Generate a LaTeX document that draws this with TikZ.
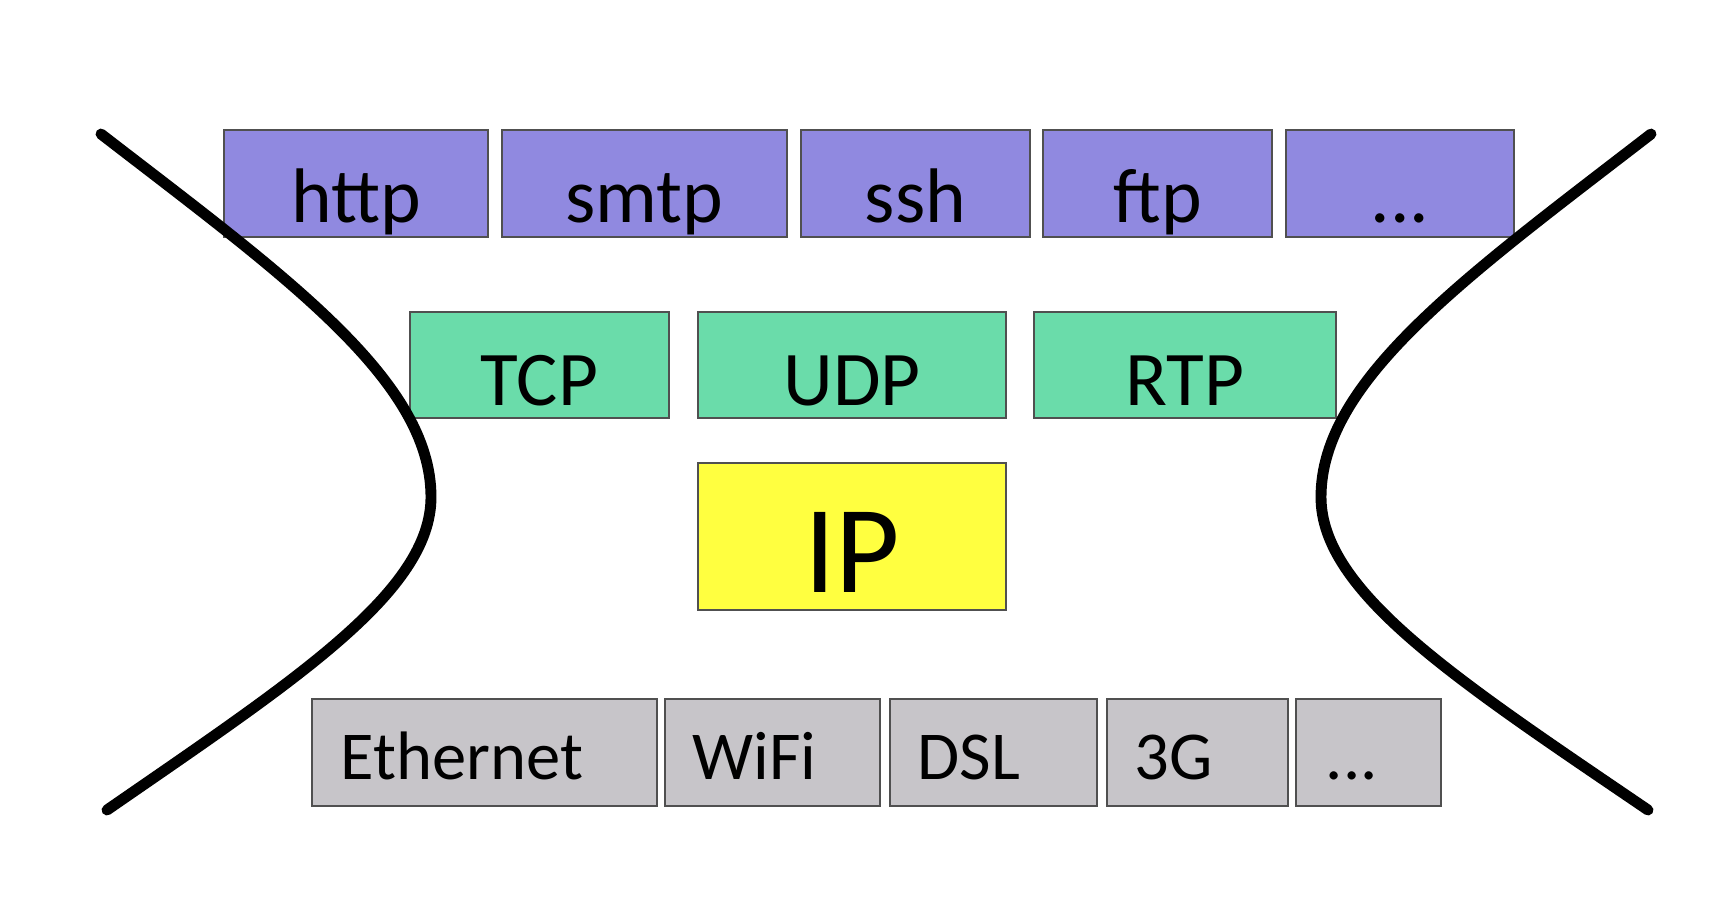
\documentclass[tikz,border=0pt]{standalone}
\usepackage{fontspec}
\setmainfont{Carlito}
\usetikzlibrary{calc}
\definecolor{appc}{RGB}{144,137,224}
\definecolor{trc}{RGB}{106,220,170}
\definecolor{ipc}{RGB}{255,255,64}
\definecolor{lnkc}{RGB}{199,197,201}
\definecolor{boxline}{RGB}{80,80,80}
\newcommand\mkbox[6]{%
  \pgfmathsetmacro\bw{(#3-#2)*0.01}%
  \pgfmathsetmacro\bh{(#5-#4)*0.01}%
  \node[#6, minimum width=\bw cm, minimum height=\bh cm] (#1) at ({(#2+#3)/2},{(#4+#5)/2}) {};}
\begin{document}
\begin{tikzpicture}[x=0.01cm,y=-0.01cm,
  layerbox/.style={draw=boxline, line width=0.6pt, inner sep=0pt, outer sep=0pt, rectangle},
  app/.style={layerbox, fill=appc},
  tr/.style={layerbox, fill=trc},
  ipb/.style={layerbox, fill=ipc},
  lnk/.style={layerbox, fill=lnkc},
  clbl/.style={anchor=base, inner sep=0pt, text=black},
  llbl/.style={anchor=base west, inner sep=0pt, text=black, font=\fontsize{19.5}{23}\selectfont},
  bigf/.style={font=\fontsize{22}{26}\selectfont},
  hour/.style={line width=3.1pt, line cap=round, black}]
\useasboundingbox[fill=white] (0,0) rectangle (1718,902);
% application layer
\mkbox{http}{224}{488}{130}{237}{app}
\mkbox{smtp}{502}{787}{130}{237}{app}
\mkbox{ssh}{801}{1030}{130}{237}{app}
\mkbox{ftp}{1043}{1272}{130}{237}{app}
\mkbox{appdots}{1286}{1514}{130}{237}{app}
\node[clbl, bigf] (http-t) at ($(http.south)+(0,-15)$) {http};
\node[clbl, bigf] (smtp-t) at ($(smtp.south)+(0,-15)$) {smtp};
\node[clbl, bigf] (ssh-t) at ($(ssh.south)+(0,-15)$) {ssh};
\node[clbl, bigf] (ftp-t) at ($(ftp.south)+(0,-15)$) {ftp};
\node[clbl, bigf] (appdots-t) at ($(appdots.south)+(0,-15)$) {...};
% transport layer
\mkbox{tcp}{410}{669}{312}{418}{tr}
\mkbox{udp}{698}{1006}{312}{418}{tr}
\mkbox{rtp}{1034}{1336}{312}{418}{tr}
\node[clbl, bigf] (tcp-t) at ($(tcp.south)+(0,-13)$) {TCP};
\node[clbl, bigf] (udp-t) at ($(udp.south)+(0,-13)$) {UDP};
\node[clbl, bigf] (rtp-t) at ($(rtp.south)+(0,-13)$) {RTP};
% network layer
\mkbox{ip}{698}{1006}{463}{610}{ipb}
\node[clbl, font=\fontsize{35.5}{40}\selectfont] (ip-t) at ($(ip.south)+(0,-18)$) {IP};
% link layer
\mkbox{eth}{312}{657}{699}{806}{lnk}
\mkbox{wifi}{665}{880}{699}{806}{lnk}
\mkbox{dsl}{890}{1097}{699}{806}{lnk}
\mkbox{threeg}{1107}{1288}{699}{806}{lnk}
\mkbox{lnkdots}{1296}{1441}{699}{806}{lnk}
\node[llbl] (eth-t) at ($(eth.south west)+(28,-27)$) {Ethernet};
\node[llbl] (wifi-t) at ($(wifi.south west)+(27,-27)$) {WiFi};
\node[llbl] (dsl-t) at ($(dsl.south west)+(27,-27)$) {DSL};
\node[llbl] (threeg-t) at ($(threeg.south west)+(27,-27)$) {3G};
\node[llbl] (lnkdots-t) at ($(lnkdots.south west)+(29,-27)$) {...};
% hourglass outline
\coordinate (L1) at (101,134);
\coordinate (Lv) at (431,497);
\coordinate (L2) at (107,810);
\coordinate (R1) at (1651,134);
\coordinate (Rv) at (1321,497);
\coordinate (R2) at (1648,810);
\draw[hour] (L1) .. controls (285,276) and (431,380) .. (Lv)
            .. controls (431,592) and (295,680) .. (L2);
\draw[hour] (R1) .. controls (1467,276) and (1321,380) .. (Rv)
            .. controls (1321,592) and (1457,680) .. (R2);
\end{tikzpicture}
\end{document}
